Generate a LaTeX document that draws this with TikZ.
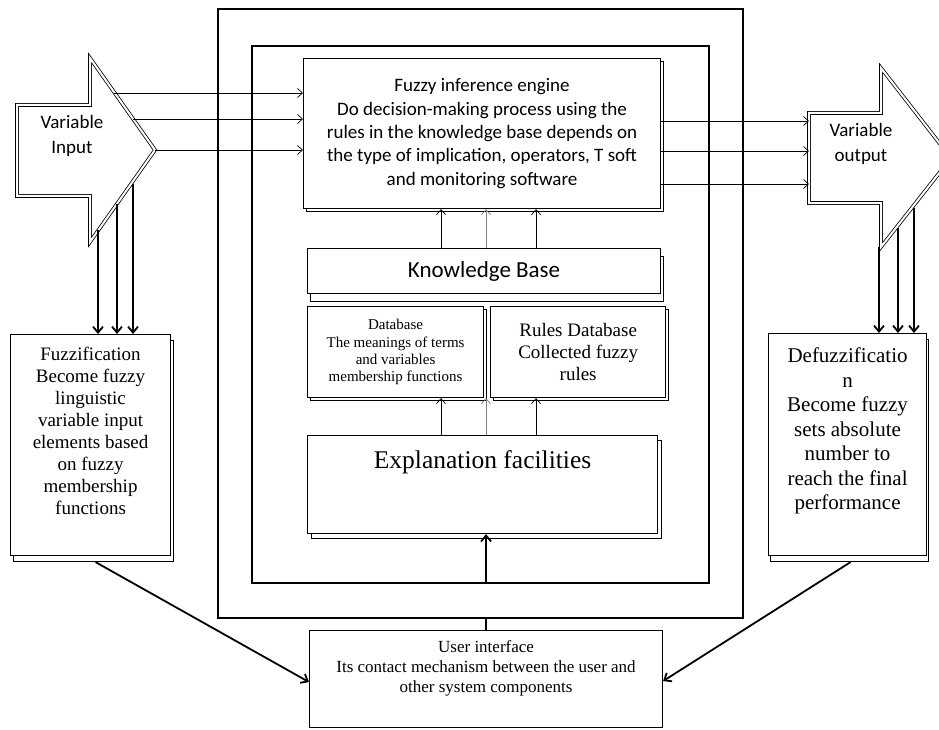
\documentclass[tikz,border=0pt]{standalone}
\usepackage{fontspec}
\setmainfont{Liberation Serif}
\newfontfamily\calib{Carlito}
\usetikzlibrary{positioning,shadows,arrows.meta}

\begin{document}
\begin{tikzpicture}[x=1pt, y=-1pt,
  box/.style={draw, line width=1.1pt, fill=white, align=center, inner sep=2pt, anchor=north west},
  boxshadow/.style={copy shadow={shadow xshift=#1, shadow yshift=-#1}},
  frame/.style={draw, line width=2pt, anchor=north west, inner sep=0pt},
  thinarr/.style={-{Straight Barb[length=5pt,width=9pt]}, line width=0.7pt},
  thickarr/.style={-{Straight Barb[length=6pt,width=10pt]}, line width=1.8pt},
  bigarrow/.style={draw, line width=0.8pt, double=white, double distance=2pt}]
\useasboundingbox (0,0) rectangle (939,730);

% frames of the system
\node[frame, minimum width=525pt, minimum height=609pt] (outerbox) at (217,8) {};
\node[frame, line width=1.6pt, minimum width=457pt, minimum height=537pt] (innerbox) at (251,45) {};

% variable input / output arrows
\draw[bigarrow] (17,105) -- (90,105) -- (90,58) -- (155,150) -- (90,242) -- (90,196) -- (17,196) -- cycle;
\draw[bigarrow] (809,113) -- (881,113) -- (881,68) -- (951,158) -- (881,247) -- (881,203) -- (809,203) -- cycle;
\node[font=\calib\fontsize{19}{25}\selectfont, align=center] (vinlabel) at (72,136) {Variable\\Input};
\node[font=\calib\fontsize{19}{25}\selectfont, align=center] (voutlabel) at (861,144) {Variable\\output};

\coordinate (in1) at (114,93);
\coordinate (in2) at (133,119);
\coordinate (in3) at (155,150);
\coordinate (dn1) at (98,230);
\coordinate (dn2) at (117,204);
\coordinate (dn3) at (133,184);
\coordinate (out1) at (809,121);
\coordinate (out2) at (809,151);
\coordinate (out3) at (809,184);
\coordinate (dd1) at (879,247);
\coordinate (dd2) at (898,228);
\coordinate (dd3) at (914,208);

% boxes
\node[box, boxshadow=3pt, minimum width=357pt, minimum height=150pt,
      font=\calib\fontsize{19}{23.3}\selectfont] (engine) at (303,58)
  {Fuzzy inference engine\\Do decision-making process using the\\rules in the knowledge base depends on\\the type of implication, operators, T soft\\and monitoring software};
\node[box, copy shadow={shadow xshift=3pt, shadow yshift=-8pt}, minimum width=353pt, minimum height=45pt,
      font=\calib\fontsize{23}{27}\selectfont] (kbase) at (307,248) {Knowledge Base};
\node[box, boxshadow=3pt, minimum width=176pt, minimum height=91pt,
      font=\fontsize{15}{17.3}\selectfont] (dbase) at (307,306)
  {Database\\The meanings of terms\\and variables\\membership functions};
\node[box, boxshadow=3pt, minimum width=175pt, minimum height=91pt, anchor=west,
      font=\fontsize{19}{22}\selectfont, right=6pt of dbase] (rulesdb)
  {Rules Database\\Collected fuzzy\\rules};
\node[box, copy shadow={shadow xshift=4pt, shadow yshift=-5pt}, minimum width=350pt, minimum height=98pt,
      inner sep=5pt, text height=28pt, text depth=60pt,
      font=\fontsize{25.5}{30}\selectfont] (explain) at (307,435) {Explanation facilities};
\node[box, minimum width=353pt, minimum height=97pt,
      font=\fontsize{17}{20}\selectfont] (uiface) at (309,630)
  {User interface\\Its contact mechanism between the user and\\other system components\\\strut};
\node[box, copy shadow={shadow xshift=3pt, shadow yshift=-6pt}, minimum width=160pt, minimum height=221pt,
      font=\fontsize{19}{22}\selectfont] (fuzz) at (10,334)
  {Fuzzification\\Become fuzzy\\linguistic\\variable input\\elements based\\on fuzzy\\membership\\functions\\\strut};
\node[box, copy shadow={shadow xshift=2pt, shadow yshift=-6pt}, minimum width=158pt, minimum height=222pt,
      font=\fontsize{21}{24.5}\selectfont] (defuzz) at (768,333)
  {Defuzzificatio\\n\\Become fuzzy\\sets absolute\\number to\\reach the final\\performance\\\strut};

% connectors
\foreach \p in {in1,in2,in3}
  \draw[thinarr] (\p) -- (\p -| engine.west);
\foreach \y/\p in {121/out1,151/out2,184/out3}
  \draw[thinarr] (engine.east |- 0,\y) -- (\p);
\foreach \p in {dn1,dn2,dn3}
  \draw[thickarr] (\p) -- (\p |- fuzz.north);
\foreach \p in {dd1,dd2,dd3}
  \draw[thickarr] (\p) -- (\p |- defuzz.north);
\foreach \x/\c in {441/black,486/gray,536/black} {
  \draw[thinarr, \c] (\x,0 |- kbase.north) -- (\x,0 |- engine.south);
  \draw[thinarr, \c] (\x,0 |- explain.north) -- (\x,0 |- dbase.south);
}
\draw[line width=1.8pt] (uiface.north) -- (uiface.north |- outerbox.south);
\draw[thickarr] (uiface.north |- innerbox.south) -- (uiface.north |- explain.south);
\draw[thickarr] ([xshift=5pt, yshift=-6pt]fuzz.south) -- ([yshift=-3pt]uiface.west);
\draw[thickarr] ([xshift=3pt, yshift=-6pt]defuzz.south) -- ([yshift=-2pt]uiface.east);
\end{tikzpicture}
\end{document}
